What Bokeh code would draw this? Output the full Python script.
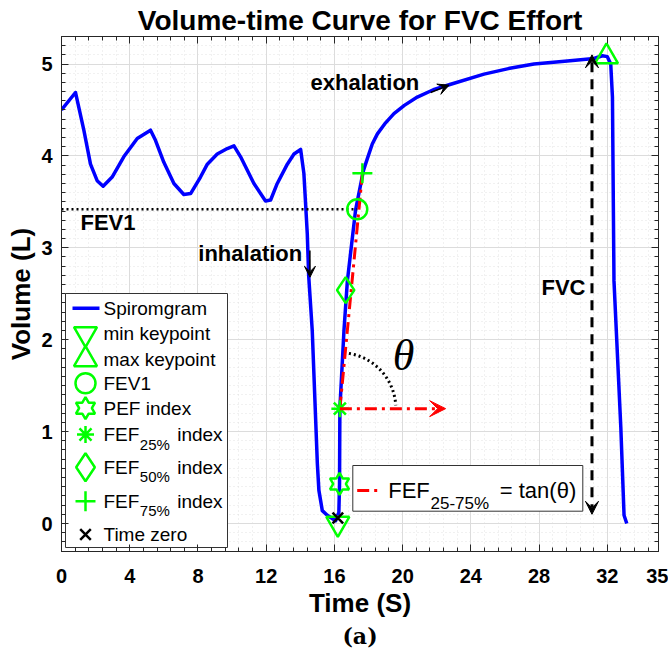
import numpy as np
from bokeh.plotting import figure
from bokeh.models import (FixedTicker, LinearAxis, Label, Arrow, VeeHead, Range1d, Title)
from bokeh.embed import file_html
from bokeh.resources import INLINE

# ---------------- data ----------------
time_s = [0.0, 0.82, 1.31, 1.70, 2.09, 2.44, 2.97, 3.65, 4.44, 5.22, 5.51, 6.00, 6.59,
          7.17, 7.57, 8.15, 8.55, 9.13, 9.72, 10.11, 10.50, 11.28, 11.96, 12.26, 12.65,
          13.24, 13.63, 14.02, 14.21, 14.41, 14.49, 14.70, 15.00, 15.09, 15.29, 15.58,
          16.07, 16.26, 16.30, 16.32, 16.56, 16.76, 17.24, 17.70, 17.93, 18.22, 18.52,
          19.00, 19.49, 20.10, 20.86, 21.80, 22.82, 24.77, 26.20, 27.70, 29.50, 31.22,
          31.71, 32.00, 32.20, 32.30, 32.39, 32.79, 32.98, 33.14]
volume_l = [4.50, 4.69, 4.28, 3.91, 3.73, 3.67, 3.77, 3.99, 4.19, 4.28, 4.17, 3.93, 3.70,
            3.58, 3.59, 3.77, 3.91, 4.02, 4.08, 4.11, 3.99, 3.70, 3.51, 3.52, 3.70,
            3.91, 4.02, 4.07, 3.81, 3.15, 2.70, 2.10, 0.65, 0.36, 0.14, 0.09,
            0.03, 0.12, 0.43, 1.25, 2.10, 2.64, 3.41, 3.84, 3.97, 4.13, 4.24,
            4.36, 4.46, 4.55, 4.64, 4.72, 4.78, 4.89, 4.95, 5.00, 5.03, 5.06,
            5.09, 5.08, 5.00, 4.64, 2.64, 1.05, 0.09, 0.00]

min_kp_t, min_kp_v = [16.20], [0.00]
max_kp_t, max_kp_v = [31.95], [5.08]
fev1_t, fev1_v = [17.34], [3.42]
pef_t, pef_v = [16.30], [0.43]
fef25_t, fef25_v = [16.32], [1.25]
fef50_t, fef50_v = [16.66], [2.54]
fef75_t, fef75_v = [17.64], [3.81]
tzero_t, tzero_v = [16.20], [0.06]

fvc_t, fvc_low, fvc_high = 31.10, 0.10, 5.10
inhal_arrow = (14.56, 2.97, 14.57, 2.68)      # x0, y0, x1, y1
exhal_arrow = (21.64, 4.69, 22.72, 4.77)
fef_arrow_end_t = 22.52

x_ticks = [0, 4, 8, 12, 16, 20, 24, 28, 32, 35]
y_ticks = [0, 1, 2, 3, 4, 5]

# ---------------- frame geometry (page pixels) ----------------
FL, FT, FW, FH = 61, 36, 597, 515
X0, X1 = 0.0, 35.0
XPX = FW / (X1 - X0)
YPX = 91.9
Y_ZERO = 523.0
Y1 = (Y_ZERO - FT) / YPX
Y0 = -(FT + FH - Y_ZERO) / YPX


def X(px):
    return X0 + (px - FL) / XPX


def Y(py):
    return (Y_ZERO - py) / YPX


SANS = "Liberation Sans"
GREEN = "#00ff00"
BLUE = "#0000ff"

p = figure(frame_width=FW, frame_height=FH,
           x_range=Range1d(X0, X1), y_range=Range1d(Y0, Y1),
           min_border_left=FL, min_border_top=FT, min_border_right=10,
           min_border_bottom=0,
           output_backend="svg", toolbar_location=None,
           background_fill_color="white", border_fill_color="white")

p.title.text = "Volume-time Curve for FVC Effort"
p.title.align = "center"
p.title.text_font = SANS
p.title.text_font_size = "28px"
p.title.text_font_style = "bold"
p.title.text_color = "black"
p.title.standoff = 2

x_minor = list(np.arange(0.8, 35, 0.8))
y_minor = list(np.round(np.arange(-0.3, 5.31, 0.1), 2))
xt = FixedTicker(ticks=x_ticks, minor_ticks=x_minor)
yt = FixedTicker(ticks=y_ticks, minor_ticks=y_minor)


def style_axis(ax, ticks=None):
    ax.axis_line_color = "#262626"
    ax.axis_line_width = 1
    ax.major_tick_in = 7
    ax.major_tick_out = 0
    ax.minor_tick_in = 4
    ax.minor_tick_out = 0
    ax.major_tick_line_color = "#262626"
    ax.minor_tick_line_color = "#262626"
    if ticks is None:
        ax.major_label_text_font = SANS
        ax.major_label_text_font_size = "20px"
        ax.major_label_text_font_style = "bold"
        ax.major_label_text_color = "black"
        ax.axis_label_text_font = SANS
        ax.axis_label_text_font_size = "26px"
        ax.axis_label_text_font_style = "bold"
        ax.axis_label_text_color = "black"
    else:
        ax.major_label_overrides = {t: "" for t in ticks}
        ax.major_label_text_font_size = "1px"
        ax.major_label_standoff = 0
        ax.axis_label = None


p.xaxis.ticker = xt
p.yaxis.ticker = yt
p.xaxis.axis_label = "Time (S)"
p.yaxis.axis_label = "Volume (L)"
style_axis(p.xaxis[0])
style_axis(p.yaxis[0])
p.xaxis.major_label_standoff = 17
p.yaxis.major_label_standoff = 9
p.xaxis.axis_label_standoff = 2
p.yaxis.axis_label_standoff = 2

top_ax = LinearAxis(ticker=xt)
style_axis(top_ax, x_ticks)
p.add_layout(top_ax, "above")
right_ax = LinearAxis(ticker=yt)
style_axis(right_ax, y_ticks)
p.add_layout(right_ax, "right")

for g in (p.xgrid[0], p.ygrid[0]):
    g.grid_line_color = "#dcdcdc"
    g.grid_line_width = 1
    g.minor_grid_line_color = "#dcdcdc"
    g.minor_grid_line_dash = "1 3"
    g.minor_grid_line_alpha = 0.8
p.xgrid.ticker = xt
p.ygrid.ticker = yt
p.outline_line_color = "#262626"

# ---------------- curve ----------------
p.line(time_s, volume_l, line_color=BLUE, line_width=3.5, line_join="round")

# FEV1 dotted level line
p.line([X0, fev1_t[0]], [fev1_v[0], fev1_v[0]], line_color="black",
       line_width=2.5, line_dash="2 3")

# FEF25-75 slope line
p.line([fef25_t[0], fef75_t[0]], [fef25_v[0], fef75_v[0]], line_color="red",
       line_width=3, line_dash="12 5 3 5")
p.add_layout(Arrow(x_start=fef25_t[0], y_start=fef25_v[0], x_end=fef_arrow_end_t,
                   y_end=fef25_v[0], line_color="red", line_width=3,
                   line_dash="12 5 3 5",
                   end=VeeHead(size=16, fill_color="red", line_color="red")))

# theta arc (geometric construction around the FEF25 point, radius in pixels)
ang = np.radians(np.linspace(80.7, 3.4, 30))
R = 56
p.line(fef25_t[0] + R * np.cos(ang) / XPX, fef25_v[0] + R * np.sin(ang) / YPX,
       line_color="black", line_width=3, line_dash="2 3")
p.add_layout(Label(x=20.06, y=1.83, text="θ", text_font="Liberation Serif",
                   text_font_style="italic", text_font_size="44px",
                   text_align="center", text_baseline="middle", text_color="black"))

# FVC double arrow
p.add_layout(Arrow(x_start=fvc_t, y_start=fvc_low, x_end=fvc_t, y_end=fvc_high,
                   line_color="black", line_width=3, line_dash="10 7",
                   start=VeeHead(size=13, fill_color="black", line_color="black"),
                   end=VeeHead(size=13, fill_color="black", line_color="black")))

# inhalation / exhalation arrows
p.add_layout(Arrow(x_start=inhal_arrow[0], y_start=inhal_arrow[1], x_end=inhal_arrow[2],
                   y_end=inhal_arrow[3], line_color="black", line_width=1.5,
                   end=VeeHead(size=11, fill_color="black", line_color="black")))
p.add_layout(Arrow(x_start=exhal_arrow[0], y_start=exhal_arrow[1], x_end=exhal_arrow[2],
                   y_end=exhal_arrow[3], line_color="black", line_width=1.5,
                   end=VeeHead(size=11, fill_color="black", line_color="black")))


# annotation texts
def txt(x, y, s, size="22px", align="left", style="bold", font=SANS):
    p.add_layout(Label(x=x, y=y, text=s, text_font=font, text_font_size=size,
                       text_font_style=style, text_align=align,
                       text_baseline="middle", text_color="black"))


txt(X(80), Y(221.7), "FEV1")
txt(X(301.7), Y(252.7), "inhalation", align="right")
txt(X(310), Y(81.7), "exhalation")
txt(X(585), Y(286.7), "FVC", align="right")


# six-pointed star outline (hexagram) around a data point, radius in pixels
def hexagram(cx, cy, r_out=11.0):
    a = np.radians(90 + 30 * np.arange(12))
    rr = np.where(np.arange(12) % 2 == 0, r_out, r_out / np.sqrt(3))
    return list(cx + rr * np.cos(a) / XPX), list(cy + rr * np.sin(a) / YPX)


# ---------------- markers ----------------
MW = 2.5
p.scatter(min_kp_t, min_kp_v, marker="inverted_triangle", size=23, fill_color=None,
          line_color=GREEN, line_width=MW)
p.scatter(max_kp_t, max_kp_v, marker="triangle", size=23, fill_color=None,
          line_color=GREEN, line_width=MW)
p.scatter(fev1_t, fev1_v, marker="circle", size=20, fill_color=None,
          line_color=GREEN, line_width=MW)
hx, hy = hexagram(pef_t[0], pef_v[0])
p.patch(hx, hy, fill_color=None, line_color=GREEN, line_width=MW)
p.scatter(fef25_t, fef25_v, marker="asterisk", size=17, line_color=GREEN, line_width=MW)
p.scatter(fef50_t, fef50_v, marker="diamond", size=26, fill_color=None,
          line_color=GREEN, line_width=MW)
p.scatter(fef75_t, fef75_v, marker="cross", size=20, line_color=GREEN, line_width=MW)
p.scatter(tzero_t, tzero_v, marker="x", size=15, line_color="black", line_width=MW)

# ---------------- legend 1 (drawn by hand for subscripts) ----------------
p.quad(left=[X(65)], right=[X(227)], top=[Y(293)], bottom=[Y(547)],
       fill_color="white", line_color="#333333", line_width=1)
rows = [307.7, 333.3, 359.0, 382.7, 407.7, 434.0, 466.7, 500.7, 534.0]
MX = X(85)
p.line([X(72), X(99)], [Y(rows[0])] * 2, line_color=BLUE, line_width=3.5)
p.scatter([MX], [Y(rows[1])], marker="inverted_triangle", size=23, fill_color=None,
          line_color=GREEN, line_width=MW)
p.scatter([MX], [Y(rows[2])], marker="triangle", size=23, fill_color=None,
          line_color=GREEN, line_width=MW)
p.scatter([MX], [Y(rows[3])], marker="circle", size=20, fill_color=None,
          line_color=GREEN, line_width=MW)
hx, hy = hexagram(MX, Y(rows[4]))
p.patch(hx, hy, fill_color=None, line_color=GREEN, line_width=MW)
p.scatter([MX], [Y(rows[5])], marker="asterisk", size=17, line_color=GREEN, line_width=MW)
p.scatter([MX], [Y(rows[6])], marker="diamond", size=28, fill_color=None,
          line_color=GREEN, line_width=MW)
p.scatter([MX], [Y(rows[7])], marker="cross", size=20, line_color=GREEN, line_width=MW)
p.scatter([MX], [Y(rows[8])], marker="x", size=15, line_color="black", line_width=MW)

TX = X(103)
for r, s in zip([rows[0], rows[1], rows[2], rows[3], rows[4], rows[8]],
                ["Spiromgram", "min keypoint", "max keypoint", "FEV1", "PEF index",
                 "Time zero"]):
    txt(TX, Y(r), s, size="19px", style="normal")
for r, sub in zip([rows[5], rows[6], rows[7]], ["25%", "50%", "75%"]):
    txt(TX, Y(r), "FEF", size="19px", style="normal")
    txt(X(139.3), Y(r + 9.5), sub, size="15px", style="normal")
    txt(X(176.7), Y(r), "index", size="19px", style="normal")

# ---------------- legend 2 ----------------
p.quad(left=[X(352.3)], right=[X(582.3)], top=[Y(465)], bottom=[Y(510.7)],
       fill_color="white", line_color="#333333", line_width=1)
p.line([X(356.7), X(378.3)], [Y(490)] * 2, line_color="red", line_width=3,
       line_dash="12 5 3 5")
txt(X(387.7), Y(490), "FEF", size="22px", style="normal")
txt(X(430), Y(502.7), "25-75%", size="17px", style="normal")
txt(X(499.3), Y(490), "= tan(θ)", size="22px", style="normal")

# caption below the axis title
p.add_layout(Title(text="(a)", align="center", text_font="DejaVu Serif",
                   text_font_size="22px", text_font_style="bold",
                   text_color="black", standoff=0), "below")

open("out.html", "w").write(file_html(p, INLINE))
